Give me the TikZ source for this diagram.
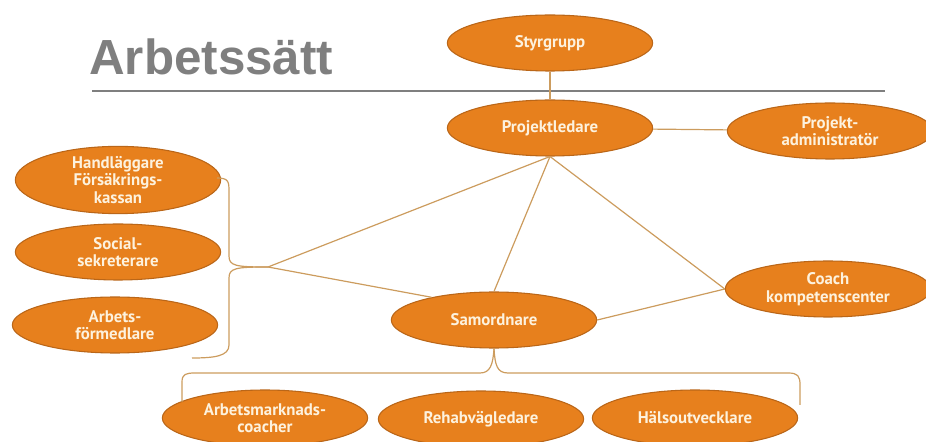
\documentclass[tikz,border=0pt]{standalone}
\usepackage{fontspec}
\setmainfont{PT Sans}
\newfontfamily\titlefont{Liberation Sans}
\usetikzlibrary{shapes.geometric}
\definecolor{roleorange}{RGB}{231,128,29}
\definecolor{roleedge}{RGB}{186,102,24}
\definecolor{roletext}{RGB}{253,242,222}
\definecolor{linktan}{RGB}{204,156,94}
\definecolor{titlegray}{RGB}{127,127,127}

\begin{document}
\begin{tikzpicture}[x=0.75pt,y=-0.75pt,
    role/.style={ellipse,draw=roleedge,fill=roleorange,line width=0.8pt,text=roletext,
      font=\bfseries\fontsize{12.6}{13.2}\selectfont,align=center,inner sep=0pt,
      minimum width=154pt,minimum height=42pt},
    link/.style={draw=linktan,line width=0.9pt}]
  \useasboundingbox (0,0) rectangle (926,442);
  % title and rule
  \node (title) [anchor=base west,inner sep=0pt,text=titlegray,
    font=\titlefont\bfseries\fontsize{37}{40}\selectfont] at (89,75) {Arbetssätt};
  \coordinate (rulel) at (92,91);
  \coordinate (ruler) at (885,91);
  \draw[titlegray,line width=1pt] (rulel) -- (ruler);
  % roles
  \node (styr)  [role] at (550,43)  {Styrgrupp};
  \node (proj)  [role] at (550,128) {Projektledare};
  \node (admin) [role] at (830,131) {Projekt-\\administratör};
  \node (hand)  [role] at (118,180) {Handläggare\\Försäkrings-\\kassan};
  \node (soc)   [role] at (118,252) {Social-\\sekreterare};
  \node (arbf)  [role] at (115,325) {Arbets-\\förmedlare};
  \node (sam)   [role] at (494,320) {Samordnare};
  \node (coach) [role] at (828,289) {Coach\\kompetenscenter};
  \node (amc)   [role] at (265,418) {Arbetsmarknads-\\coacher};
  \node (rehab) [role] at (481,419) {Rehabvägledare};
  \node (halsa) [role] at (695,418) {Hälsoutvecklare};
  % braces
  \coordinate (lbtop) at (217,178);
  \coordinate (lbtip) at (268,267);
  \coordinate (lbbot) at (192,358);
  \coordinate (bbleft) at (182,402);
  \coordinate (bbright) at (800,405);
  \draw[link] (lbtop) .. controls (229,178) and (229,182) .. (229,192) -- (229,256)
    .. controls (229,266) and (236,267) .. (lbtip);
  \draw[link] (lbtip) .. controls (236,267) and (229,268) .. (229,278) -- (229,345)
    .. controls (229,356) and (215,358) .. (lbbot);
  \draw[link] (bbleft) -- (182,382) .. controls (182,374) and (186,373) .. (195,373) -- (480,373)
    .. controls (490,373) and (493,365) .. (sam.south);
  \draw[link] (sam.south) .. controls (495,365) and (497,373) .. (508,373) -- (788,373)
    .. controls (798,373) and (800,376) .. (800,385) -- (bbright);
  % links
  \path[link]
    (styr) edge (proj)
    (proj) edge (admin)
    (proj.south) edge (lbtip)
    (proj.south) edge (sam.north)
    (proj.south) edge (coach.west)
    (lbtip) edge (sam.160)
    (sam.east) edge (coach.west)
    ;
\end{tikzpicture}
\end{document}
